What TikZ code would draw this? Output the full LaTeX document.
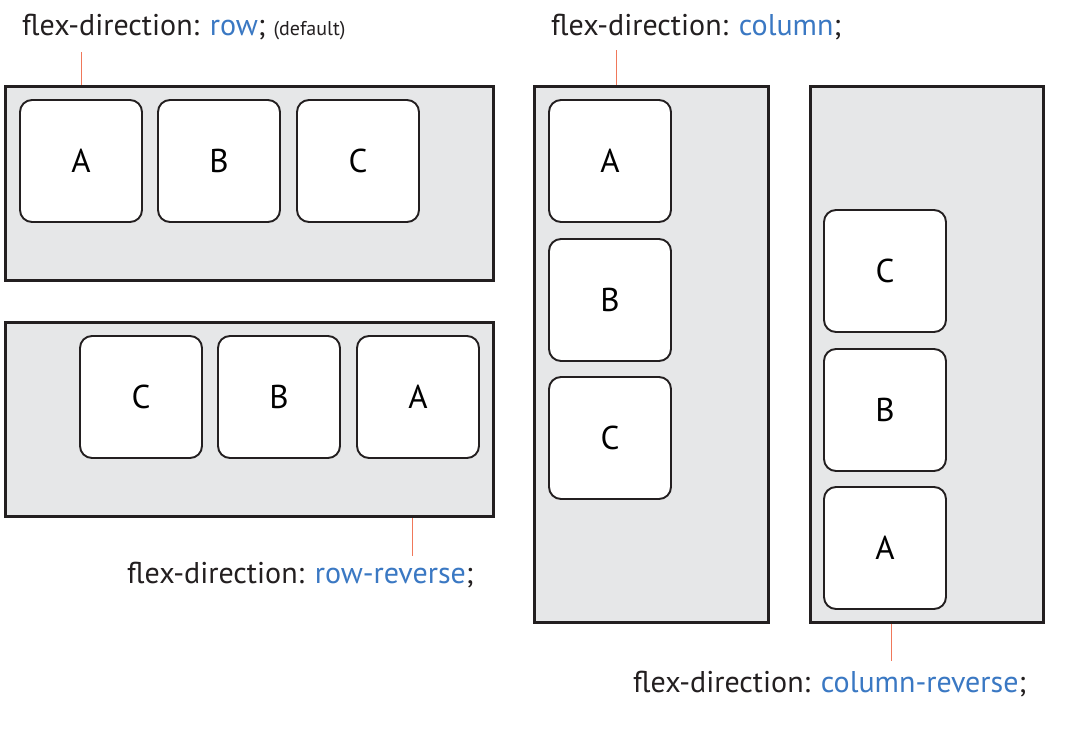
\documentclass[tikz,border=0pt]{standalone}
\usepackage{fontspec}
\setmainfont{PT Sans}
\definecolor{frame}{HTML}{231F20}
\definecolor{panel}{HTML}{E6E7E8}
\definecolor{cssblue}{HTML}{3A78C3}
\definecolor{leader}{HTML}{F0785A}
\begin{document}
\begin{tikzpicture}[x=1pt,y=-1pt,
  container/.style={draw=frame,line width=3pt,fill=panel,minimum width=#1,inner sep=0pt},
  item/.style={draw=frame,line width=1.9pt,fill=white,rounded corners=12pt,minimum width=122pt,minimum height=122pt,inner sep=0pt,font=\fontsize{33}{36}\selectfont},
  caption/.style={anchor=base west,inner sep=0pt,text=frame,font=\fontsize{30}{33}\selectfont},
  leadline/.style={draw=leader,line width=1pt}]
\fill[white] (0,0) rectangle (1081,751);
\useasboundingbox (0,0) rectangle (1081,751);
% containers
\node[container=488pt,minimum height=194pt] (rowbox) at (249.5,183.5) {};
\node[container=488pt,minimum height=194pt] (rrbox) at (249.5,419.5) {};
\node[container=234pt,minimum height=536pt] (colbox) at (651.5,354.5) {};
\node[container=233pt,minimum height=536pt] (crbox) at (927,354.5) {};
% row
\node[item] (r1) at (81,161) {A};
\node[item] (r2) at (219,161) {B};
\node[item] (r3) at (358,161) {C};
% row-reverse
\node[item] (rr3) at (141,397) {C};
\node[item] (rr2) at (279,397) {B};
\node[item] (rr1) at (418,397) {A};
% column
\node[item] (c1) at (610,161) {A};
\node[item] (c2) at (610,300) {B};
\node[item] (c3) at (610,438) {C};
% column-reverse
\node[item] (cr3) at (885,271) {C};
\node[item] (cr2) at (885,410) {B};
\node[item] (cr1) at (885,548) {A};
% captions
\node[caption] (lrow) at (22,36) {flex-direction: \textcolor{cssblue}{row}; {\fontsize{20}{22}\selectfont (default)}};
\node[caption] (lcol) at (551,36) {flex-direction: \textcolor{cssblue}{column};};
\node[caption] (lrr) at (127,583) {flex-direction: \textcolor{cssblue}{row-reverse};};
\node[caption] (lcr) at (633,692) {flex-direction: \textcolor{cssblue}{column-reverse};};
% leader lines
\coordinate (trow) at (81,52);
\coordinate (tcol) at (616,50);
\coordinate (trr) at (412,556);
\coordinate (tcr) at (891,661);
\draw[leadline] (trow |- rowbox.north) -- (trow);
\draw[leadline] (tcol |- colbox.north) -- (tcol);
\draw[leadline] (trr |- rrbox.south) -- (trr);
\draw[leadline] (tcr |- crbox.south) -- (tcr);
\end{tikzpicture}
\end{document}
